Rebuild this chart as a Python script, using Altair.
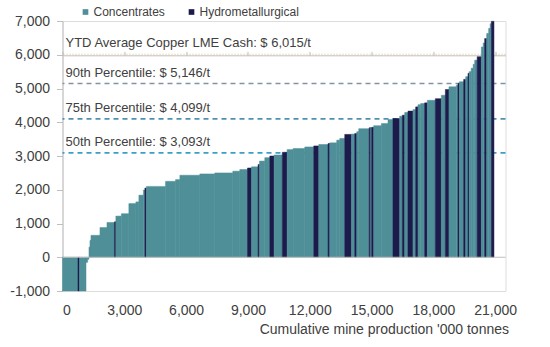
import altair as alt
import pandas as pd

# production of each mine ('000 t), cash cost ($/t), process type (C = concentrates, H = hydromet)
widths = [752, 73, 315, 82, 63, 48, 48, 437, 340, 364,
          68, 267, 364, 340, 146, 218, 73, 73, 931, 485,
          209, 970, 727, 873, 340, 373, 194, 320, 68, 257,
          243, 209, 398, 233, 291, 567, 436, 242, 451, 82,
          340, 146, 242, 325, 160, 97, 97, 509, 73, 48,
          97, 373, 320, 242, 325, 131, 112, 160, 242, 131,
          112, 131, 194, 131, 388, 291, 194, 175, 359, 78,
          68, 209, 97, 112, 58, 97, 97, 73, 121, 204,
          87, 73, 97, 97, 73, 58, 126]
costs = [-1000, -1000, -1000, -150, -60, 300, 500, 650, 880, 1030,
         1050, 1220, 1290, 1590, 1640, 1840, 1990, 2050, 2100, 2250,
         2300, 2430, 2470, 2500, 2550, 2600, 2645, 2680, 2750, 2850,
         2950, 3000, 3030, 3110, 3190, 3220, 3270, 3300, 3340, 3370,
         3390, 3470, 3520, 3640, 3650, 3665, 3720, 3810, 3840, 3845,
         3850, 3900, 3960, 4080, 4110, 4180, 4210, 4290, 4330, 4375,
         4455, 4520, 4555, 4575, 4650, 4700, 4800, 4970, 5050, 5100,
         5150, 5200, 5270, 5350, 5450, 5500, 5600, 5720, 5840, 5940,
         6230, 6350, 6480, 6630, 6780, 6920, 6990]
kinds = ["C", "H", "C", "C", "C", "C", "C", "C", "C", "C",
         "H", "C", "C", "C", "C", "C", "C", "H", "C", "C",
         "C", "C", "C", "C", "C", "C", "H", "C", "H", "C",
         "C", "H", "C", "H", "C", "C", "C", "H", "C", "H",
         "C", "C", "C", "H", "C", "H", "C", "C", "H", "C",
         "H", "C", "C", "C", "H", "C", "H", "C", "H", "C",
         "H", "C", "C", "H", "C", "H", "C", "H", "C", "C",
         "H", "C", "H", "C", "H", "C", "C", "C", "C", "H",
         "C", "C", "H", "C", "C", "C", "H"]
kind_names = {"C": "Concentrates", "H": "Hydrometallurgical"}
series = ["Concentrates", "Hydrometallurgical"]

ref_values = [6015, 5146, 4099, 3093]
ref_labels = ["YTD Average Copper LME Cash: $ 6,015/t",
              "90th Percentile: $ 5,146/t",
              "75th Percentile: $ 4,099/t",
              "50th Percentile: $ 3,093/t"]

x_ticks = [0, 3000, 6000, 9000, 12000, 15000, 18000, 21000]
y_ticks = [-1000, 0, 1000, 2000, 3000, 4000, 5000, 6000, 7000]
x_title = "Cumulative mine production '000 tonnes"

FONT = "Liberation Sans"
TXT = "#404040"
TEAL = "#4f8f98"
NAVY = "#1d1b4c"

df = pd.DataFrame({"width": widths, "cost": costs,
                   "kind": [kind_names[k] for k in kinds]})
df["x2"] = df["width"].cumsum()
df["x1"] = df["x2"] - df["width"]

xscale = alt.Scale(domain=[0, 21500], nice=False, zero=False)
yscale = alt.Scale(domain=[-1000, 7000], nice=False)
cscale = alt.Scale(domain=series, range=[TEAL, NAVY])

yaxis = alt.Axis(values=y_ticks, grid=False, domainColor="#bfbfbf",
                 tickColor="#bfbfbf", tickSize=6, labelFont=FONT,
                 labelFontSize=14, labelColor=TXT, labelPadding=7,
                 labelOverlap=False, labelFlush=False, title=None,
                 labelExpr="datum.value < 0 ? '-' + format(-datum.value, ',') : format(datum.value, ',')")

bars = alt.Chart(df).mark_rect(strokeWidth=0.5).encode(
    x=alt.X("x1:Q", scale=xscale,
            axis=alt.Axis(values=x_ticks, format=",d", domain=False, ticks=False,
                          grid=False, labelFont=FONT, labelFontSize=14,
                          labelColor=TXT, labelPadding=12, title=x_title,
                          titleFont=FONT, titleFontSize=14, titleFontWeight="normal",
                          titleColor=TXT, titleAlign="right", titleAnchor="end",
                          titleX=446, titleY=38, titleBaseline="middle")),
    x2="x2:Q",
    y=alt.Y("cost:Q", scale=yscale, axis=yaxis),
    y2=alt.datum(0),
    color=alt.Color("kind:N", scale=cscale,
                    legend=alt.Legend(orient="none", legendX=17, legendY=-15,
                                      direction="horizontal", title=None,
                                      symbolType="square", symbolSize=32,
                                      symbolStrokeWidth=0, gridAlign="none",
                                      labelFont=FONT, labelFontSize=12,
                                      labelColor=TXT, columnPadding=20,
                                      labelOffset=2)),
    stroke=alt.Color("kind:N", scale=cscale, legend=None),
)

refdf = pd.DataFrame({"value": ref_values, "label": ref_labels})

styles = [("#e6c07a", [1, 2], 1.2),
          ("#7d95a6", [5, 4], 1.6),
          ("#4c92b0", [5, 4], 1.6),
          ("#3a9fc8", [5, 4], 1.6)]
rule_layers = []
for i, (col, dash, sw) in enumerate(styles):
    sub = refdf.iloc[[i]]
    rule_layers.append(
        alt.Chart(sub).mark_rule(color=col, strokeDash=dash, strokeWidth=sw).encode(
            y=alt.Y("value:Q", scale=yscale, axis=yaxis)))

texts = alt.Chart(refdf).mark_text(align="left", baseline="middle", dy=-11,
                                   font=FONT, fontSize=13, color=TXT).encode(
    x=alt.value(3), y=alt.Y("value:Q", scale=yscale, axis=yaxis), text="label:N")

zero_axis = alt.Chart(pd.DataFrame({"x": [0], "x2": [21500], "y": [0]})).mark_rule(
    color="#bfbfbf", strokeWidth=1).encode(
    x=alt.X("x:Q", scale=xscale,
            axis=alt.Axis(values=x_ticks, labels=False, grid=False, title=None,
                          domainColor="#bfbfbf", tickColor="#bfbfbf", tickSize=4,
                          offset=-34.3)),
    x2="x2:Q",
    y=alt.Y("y:Q", scale=yscale, axis=yaxis))

chart = alt.layer(*rule_layers, bars, zero_axis, texts).resolve_axis(
    x="independent").properties(
    width=443, height=270,
    autosize=alt.AutoSizeParams(type="none"),
    padding={"left": 62.5, "top": 21, "right": 44.5, "bottom": 56},
).configure_view(stroke=None).configure(background="white")

chart.save("out.html", embed_options={"renderer": "svg", "actions": False})
